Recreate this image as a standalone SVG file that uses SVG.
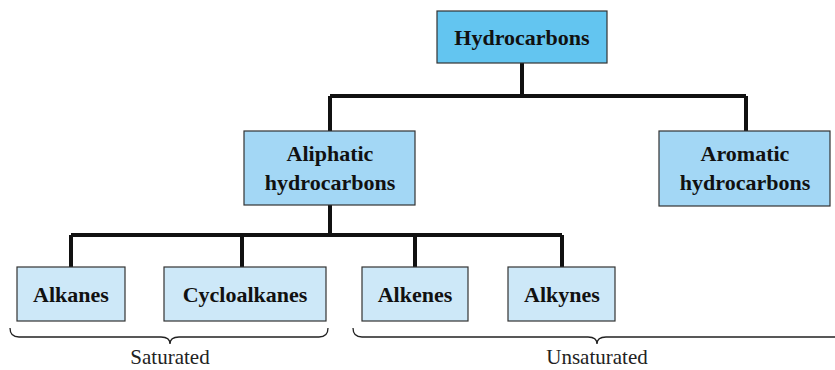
<svg xmlns="http://www.w3.org/2000/svg" width="835" height="370" viewBox="0 0 835 370">
<style>
.box{stroke:#333;stroke-width:1.2}
.l1{fill:#63c5f0}
.l2{fill:#a3d7f5}
.l3{fill:#cde8f8}
.t{font-family:"Liberation Serif",serif;font-weight:bold;font-size:22px;fill:#111;text-anchor:middle}
.lab{font-family:"Liberation Serif",serif;font-size:21px;fill:#222;text-anchor:middle}
.c{stroke:#111;stroke-width:4;fill:none}
.br{stroke:#222;stroke-width:1.3;fill:none}
</style>
<rect width="835" height="370" fill="#fff"/>
<g id="connectors">
<path class="c" d="M522,63V96M330,96H746M330,96V131M746,96V131"/>
<path class="c" d="M330,205V235M71,235H562M71,235V267M242,235V267M415,235V267M562,235V267"/>
</g>
<g id="hydrocarbons"><rect class="box l1" x="437" y="11" width="170" height="52"/><text class="t" x="522" y="45">Hydrocarbons</text></g>
<g id="aliphatic"><rect class="box l2" x="244" y="131" width="171" height="74"/><text class="t" x="330" y="161">Aliphatic</text><text class="t" x="330" y="190">hydrocarbons</text></g>
<g id="aromatic"><rect class="box l2" x="659" y="131" width="171" height="75"/><text class="t" x="745" y="161">Aromatic</text><text class="t" x="745" y="190">hydrocarbons</text></g>
<g id="alkanes"><rect class="box l3" x="17" y="267" width="108" height="54"/><text class="t" x="71" y="302">Alkanes</text></g>
<g id="cycloalkanes"><rect class="box l3" x="164" y="267" width="162" height="54"/><text class="t" x="245" y="302">Cycloalkanes</text></g>
<g id="alkenes"><rect class="box l3" x="362" y="267" width="106" height="54"/><text class="t" x="415" y="302">Alkenes</text></g>
<g id="alkynes"><rect class="box l3" x="508" y="267" width="107" height="54"/><text class="t" x="562" y="302">Alkynes</text></g>
<g id="saturated"><path class="br" d="M10,328Q10,337 19,337L161,337Q170,337 170,344Q170,337 179,337L319,337Q328,337 328,328"/><text class="lab" x="170" y="364">Saturated</text></g>
<g id="unsaturated"><path class="br" d="M353,328Q353,337 362,337L588,337Q597,337 597,344Q597,337 606,337L835,337"/><text class="lab" x="597" y="364">Unsaturated</text></g>
</svg>
